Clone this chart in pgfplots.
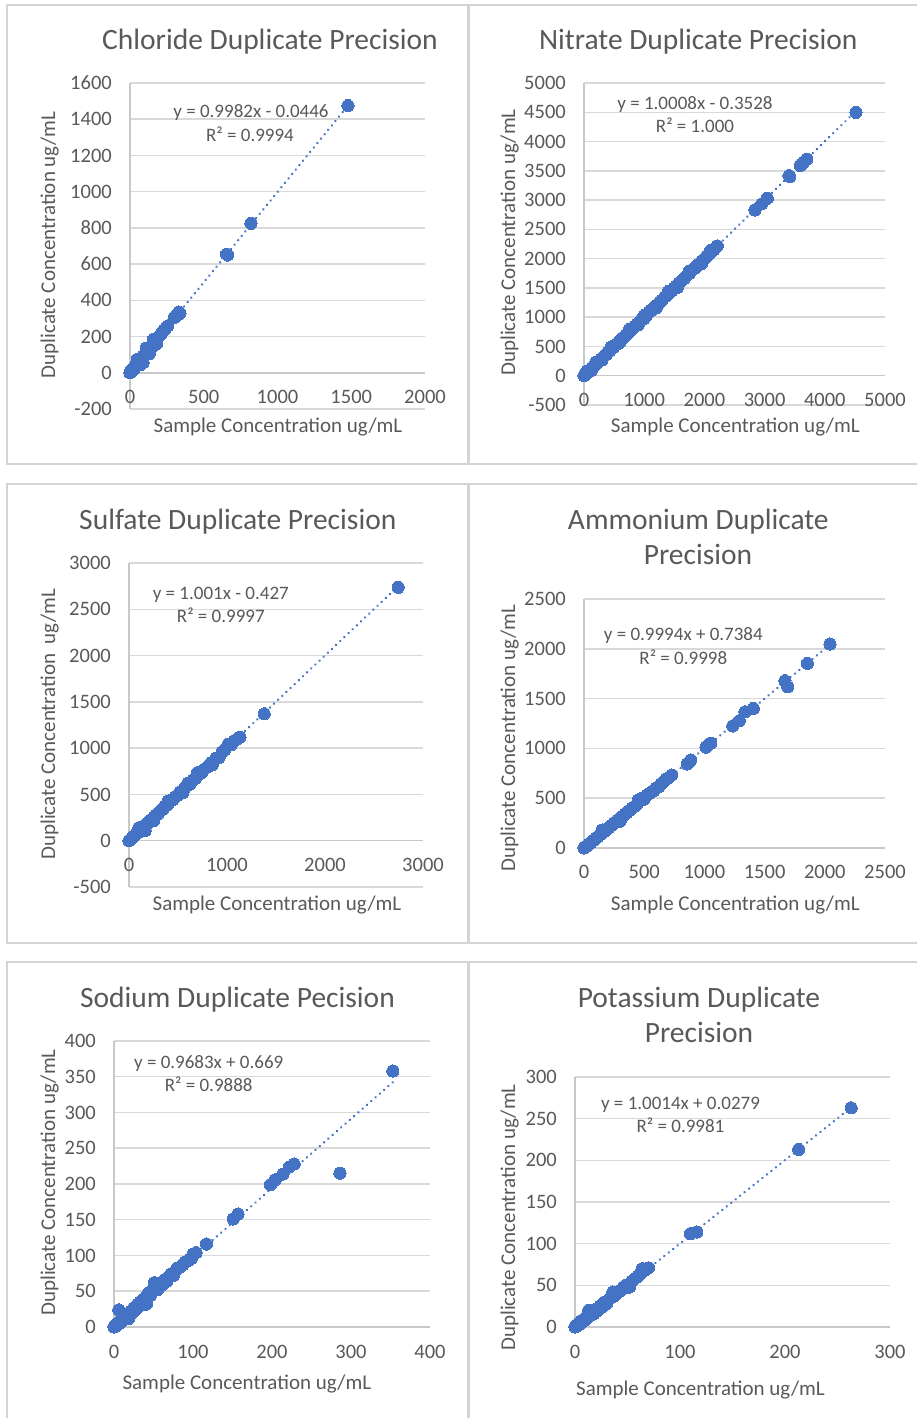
\documentclass[border=0pt]{standalone}
\usepackage{pgfplots}
\pgfplotsset{compat=1.18}
\usepackage{fontspec}
\setmainfont{Carlito}
\definecolor{ptblue}{HTML}{4472C4}
\definecolor{txtgray}{HTML}{595959}
\definecolor{gridgray}{HTML}{D9D9D9}
\definecolor{axgray}{HTML}{C8C8C8}
\definecolor{boxgray}{HTML}{D4D4D4}
\newcommand\ttlfont{\fontsize{29.5}{35}\selectfont}
\newcommand\labfont{\fontsize{21}{25}\selectfont}
\newcommand\eqfont{\fontsize{19}{23}\selectfont}
\pgfplotsset{
 panel/.style={
  scale only axis, anchor=south west,
  axis x line=middle, axis y line=left,
  axis line style={draw=axgray, line width=1.5pt, -},
  ymajorgrids, grid style={draw=gridgray, line width=1.5pt},
  major tick length=0pt,
  hide obscured x ticks=false, hide obscured y ticks=false,
  clip=false,
  tick label style={font=\fontsize{20.5}{24}\selectfont, color=txtgray},
  yticklabel style={anchor=east, inner sep=0pt, xshift=-18pt},
  xticklabel style={anchor=base, inner sep=0pt, yshift=-31pt},
 },
 pts/.style={only marks, mark=*, mark size=6.1pt, mark options={fill=ptblue, draw=ptblue, line width=0pt}},
 trend/.style={no marks, draw=ptblue, line width=2.6pt, line cap=round, dash pattern=on 0.1pt off 5.6pt},
}
\tikzset{lbl/.style={text=txtgray, inner sep=0pt, anchor=base}}
\begin{document}
\begin{tikzpicture}
\useasboundingbox[fill=white] (0pt,0pt) rectangle (917pt,1418pt);
% panel frames
\draw[boxgray, line width=2pt] (7pt,954pt) rectangle (469pt,1413pt);
\draw[boxgray, line width=2pt] (468pt,954pt) rectangle (930pt,1413pt);
\draw[boxgray, line width=2pt] (7pt,475pt) rectangle (469pt,934pt);
\draw[boxgray, line width=2pt] (468pt,475pt) rectangle (930pt,934pt);
\draw[boxgray, line width=2pt] (7pt,-12pt) rectangle (469pt,456pt);
\draw[boxgray, line width=2pt] (468pt,-12pt) rectangle (930pt,456pt);

% ---------------- Chloride
\begin{axis}[panel, at={(130pt,1009pt)}, width=295pt, height=326pt,
  xmin=0, xmax=2000, ymin=-200, ymax=1600,
  xtick={0,500,1000,1500,2000}, xticklabels={0,500,1000,1500,2000},
  ytick={-200,0,200,400,600,800,1000,1200,1400,1600},
  yticklabels={-200,0,200,400,600,800,1000,1200,1400,1600}]
\addplot[pts] coordinates {
(0,0) (2,3) (5,4) (8,9) (10,6) (12,14) (15,12) (18,20) (20,17) (24,26) (27,22)
(30,33) (33,30) (36,40) (40,36) (44,47) (48,44) (50,75) (52,55) (56,52) (60,64) (64,60)
(68,72) (70,45) (72,68) (76,80) (80,76) (85,88) (88,55) (90,92) (95,90) (100,104) (105,100)
(110,113) (110,135) (115,110) (120,124) (125,120) (130,134) (130,105) (135,130) (140,145) (145,140)
(150,155) (155,150) (160,165) (160,185) (165,160) (170,175) (175,172) (180,185) (180,160) (190,195)
(200,205) (210,212) (220,225) (230,235) (245,250) (255,258) (300,305) (310,315)
(330,335) (339,328) (655,655) (662,650) (820,825) (1478,1475)};
\addplot[trend] coordinates {(0,-0.04) (1478,1475.3)};
\end{axis}
\node[lbl, font=\ttlfont] at (270pt,1368pt) {Chloride Duplicate Precision};
\node[lbl, font=\eqfont] at (251pt,1300pt) {y = 0.9982x - 0.0446};
\node[lbl, font=\eqfont] at (250pt,1276.3pt) {R² = 0.9994};
\node[lbl, font=\labfont] at (278pt,985.3pt) {Sample Concentration ug/mL};
\node[lbl, font=\labfont, rotate=90] at (55pt,1173pt) {Duplicate Concentration ug/mL};

% ---------------- Nitrate
\begin{axis}[panel, at={(584pt,1013pt)}, width=301pt, height=322pt,
  xmin=0, xmax=5000, ymin=-500, ymax=5000,
  xtick={0,1000,2000,3000,4000,5000}, xticklabels={0,1000,2000,3000,4000,5000},
  ytick={-500,0,500,1000,1500,2000,2500,3000,3500,4000,4500,5000},
  yticklabels={-500,0,500,1000,1500,2000,2500,3000,3500,4000,4500,5000}]
\addplot[pts] coordinates {
(0,0) (20,25) (40,35) (50,80) (60,65) (80,75) (100,105) (120,90) (130,125) (160,165) (190,185)
(200,230) (220,225) (250,245) (280,285) (300,270) (310,305) (340,345) (370,365) (400,405) (430,425)
(450,490) (460,465) (490,485) (520,525) (550,545) (580,585) (600,570) (610,605) (640,645) (670,665)
(700,705) (730,725) (750,790) (760,765) (790,785) (820,825) (850,845) (880,885) (900,870) (920,915)
(960,965) (990,1000) (1000,980) (1000,1030) (1040,1035) (1080,1090) (1110,1120) (1140,1130)
(1180,1185) (1200,1160) (1220,1215) (1260,1265) (1300,1295) (1340,1345) (1380,1375) (1400,1440) (1420,1425)
(1460,1450) (1500,1505) (1540,1535) (1550,1510) (1580,1585) (1620,1625) (1660,1655) (1700,1705)
(1750,1745) (1750,1790) (1790,1795) (1840,1835) (1880,1885) (1920,1915) (1950,1910) (1960,1965) (2000,1995)
(2040,2045) (2080,2075) (2100,2140) (2120,2125) (2160,2155) (2214,2218) (2840,2832) (2951,2934)
(3045,3031) (3405,3417) (3420,3400) (3590,3590) (3616,3617) (3650,3650) (3699,3697)
(4518,4498)};
\addplot[trend] coordinates {(0,-0.35) (4518,4521.3)};
\end{axis}
\node[lbl, font=\ttlfont] at (698.3pt,1368pt) {Nitrate Duplicate Precision};
\node[lbl, font=\eqfont] at (695pt,1308.7pt) {y = 1.0008x - 0.3528};
\node[lbl, font=\eqfont] at (695pt,1285.3pt) {R² = 1.000};
\node[lbl, font=\labfont] at (735.3pt,985.3pt) {Sample Concentration ug/mL};
\node[lbl, font=\labfont, rotate=90] at (515pt,1175.5pt) {Duplicate Concentration ug/mL};

% ---------------- Sulfate
\begin{axis}[panel, at={(129pt,531pt)}, width=294pt, height=324pt,
  xmin=0, xmax=3000, ymin=-500, ymax=3000,
  xtick={0,1000,2000,3000}, xticklabels={0,1000,2000,3000},
  ytick={-500,0,500,1000,1500,2000,2500,3000},
  yticklabels={-500,0,500,1000,1500,2000,2500,3000}]
\addplot[pts] coordinates {
(0,0) (15,10) (30,35) (50,45) (70,75) (90,85) (100,140) (110,115) (130,125) (150,155)
(165,110) (170,175) (195,190) (220,225) (245,240) (250,215) (270,275) (295,290) (320,325)
(345,340) (370,375) (395,390) (400,430) (420,425) (445,440) (470,475) (495,490) (520,525)
(545,540) (550,520) (570,575) (600,620) (620,610) (650,655) (680,675) (700,735) (710,715) (740,735)
(770,775) (800,795) (830,835) (850,820) (860,855) (890,895) (920,900) (950,955) (980,985)
(1010,1040) (1040,1035) (1070,1075) (1100,1095) (1132,1119) (1380,1372) (2747,2737)};
\addplot[trend] coordinates {(0,-0.43) (2747,2749.3)};
\end{axis}
\node[lbl, font=\ttlfont] at (237.8pt,888.7pt) {Sulfate Duplicate Precision};
\node[lbl, font=\eqfont] at (220.8pt,818.7pt) {y = 1.001x - 0.427};
\node[lbl, font=\eqfont] at (220.8pt,795.3pt) {R² = 0.9997};
\node[lbl, font=\labfont] at (277pt,507.3pt) {Sample Concentration ug/mL};
\node[lbl, font=\labfont, rotate=90] at (55pt,693.8pt) {Duplicate Concentration~~ug/mL};

% ---------------- Ammonium
\begin{axis}[panel, at={(584pt,570pt)}, width=301pt, height=249pt,
  xmin=0, xmax=2500, ymin=0, ymax=2500,
  xtick={0,500,1000,1500,2000,2500}, xticklabels={0,500,1000,1500,2000,2500},
  ytick={0,500,1000,1500,2000,2500},
  yticklabels={0,500,1000,1500,2000,2500}]
\addplot[pts] coordinates {
(0,0) (10,12) (25,22) (40,42) (55,52) (70,72) (85,82) (100,103) (115,112) (130,132)
(145,142) (150,180) (160,162) (175,172) (190,193) (205,202) (220,222) (235,232) (250,252)
(265,262) (280,283) (295,292) (300,270) (310,312) (325,322) (340,343) (355,352) (370,372)
(385,382) (400,402) (420,418) (440,442) (450,480) (460,470) (479,499) (500,490) (520,530)
(545,550) (560,565) (580,575) (600,605) (620,615) (640,645) (660,665) (680,690)
(700,705) (728,733) (858,843) (886,883) (1013,1011) (1035,1040) (1052,1051)
(1235,1225) (1290,1277) (1337,1367) (1406,1401) (1669,1680) (1692,1618)
(1855,1854) (2043,2048)};
\addplot[trend] coordinates {(0,0.74) (2043,2042.5)};
\end{axis}
\node[lbl, font=\ttlfont] at (698.3pt,888.7pt) {Ammonium Duplicate};
\node[lbl, font=\ttlfont] at (698pt,853.7pt) {Precision};
\node[lbl, font=\eqfont] at (683.3pt,777.3pt) {y = 0.9994x + 0.7384};
\node[lbl, font=\eqfont] at (683.3pt,753.7pt) {R² = 0.9998};
\node[lbl, font=\labfont] at (735.3pt,507.3pt) {Sample Concentration ug/mL};
\node[lbl, font=\labfont, rotate=90] at (515pt,679.7pt) {Duplicate Concentration ug/mL};

% ---------------- Sodium
\begin{axis}[panel, at={(114pt,91pt)}, width=316pt, height=286pt,
  xmin=0, xmax=400, ymin=0, ymax=400,
  xtick={0,100,200,300,400}, xticklabels={0,100,200,300,400},
  ytick={0,50,100,150,200,250,300,350,400},
  yticklabels={0,50,100,150,200,250,300,350,400}]
\addplot[pts] coordinates {
(0,0) (1,2) (2,1) (3,4) (4,3) (5,6) (6,24) (7,5) (8,9) (10,8) (12,13) (14,12)
(16,17) (18,14) (19,12) (21,22) (23,20) (25,27) (27,24) (29,26) (30,32) (33,35)
(35,31) (37,38) (41,32) (40,42) (43,47) (46,44) (48,50) (51,62) (52,54) (55,52)
(58,61) (61,59) (64,66) (67,64) (69,70) (72,74) (75,72) (78,79) (80,82) (84,84)
(87,87) (90,91) (94,93) (98,96) (100,102) (104,104) (117,116) (151,151) (157,158)
(198,199) (204,206) (214,214) (222,224) (228,228) (286,215) (353,358)};
\addplot[trend] coordinates {(0,0.67) (353,342.5)};
\end{axis}
\node[lbl, font=\ttlfont] at (237.5pt,410.7pt) {Sodium Duplicate Pecision};
\node[lbl, font=\eqfont] at (208.7pt,349.7pt) {y = 0.9683x + 0.669};
\node[lbl, font=\eqfont] at (208.7pt,326.3pt) {R² = 0.9888};
\node[lbl, font=\labfont] at (246.9pt,28pt) {Sample Concentration ug/mL};
\node[lbl, font=\labfont, rotate=90] at (55pt,235.5pt) {Duplicate Concentration ug/mL};

% ---------------- Potassium
\begin{axis}[panel, at={(575pt,91pt)}, width=315pt, height=250pt,
  xmin=0, xmax=300, ymin=0, ymax=300,
  xtick={0,100,200,300}, xticklabels={0,100,200,300},
  ytick={0,50,100,150,200,250,300},
  yticklabels={0,50,100,150,200,250,300}]
\addplot[pts] coordinates {
(0,0) (1,1) (2,3) (3,2) (4,5) (5,4) (6,7) (7,6) (8,9) (9,8) (10,11) (11,10)
(13,20) (13,14) (15,14) (17,18) (18,16) (20,21) (22,20) (24,25) (26,24) (28,30)
(30,28) (32,33) (34,35) (36,42) (38,38) (40,41) (42,43) (44,44) (46,47) (48,50)
(50,48) (52,48) (54,55) (56,57) (58,59) (60,61) (62,64) (64,70) (66,68) (70,71)
(110,112) (116,114) (213,213) (263,263)};
\addplot[trend] coordinates {(0,0.03) (263,263.4)};
\end{axis}
\node[lbl, font=\ttlfont] at (699pt,410.7pt) {Potassium Duplicate};
\node[lbl, font=\ttlfont] at (699pt,375.3pt) {Precision};
\node[lbl, font=\eqfont] at (680.5pt,308.7pt) {y = 1.0014x + 0.0279};
\node[lbl, font=\eqfont] at (680.5pt,285.3pt) {R² = 0.9981};
\node[lbl, font=\labfont] at (700.5pt,23pt) {Sample Concentration ug/mL};
\node[lbl, font=\labfont, rotate=90] at (515pt,200.5pt) {Duplicate Concentration ug/mL};
\end{tikzpicture}
\end{document}
